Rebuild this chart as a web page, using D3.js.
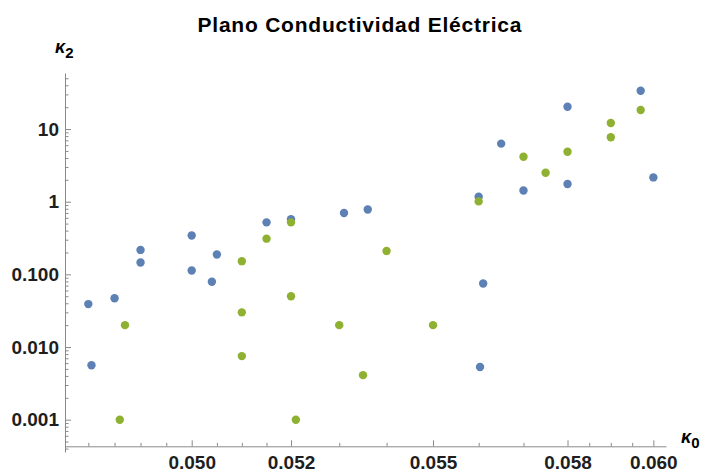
<!DOCTYPE html>
<html>
<head>
<meta charset="utf-8">
<script src="https://cdn.jsdelivr.net/npm/d3@7"></script>
<style>
  html, body { margin: 0; padding: 0; background: #fff; }
  svg { display: block; font-family: "Liberation Sans", Arial, sans-serif; }
  .axis path, .axis line { stroke: #8a8a8a; stroke-width: 1; }
  .axis text { fill: #1e1e1e; font-weight: bold; font-size: 19px; }
</style>
</head>
<body>
<svg id="chart" width="701" height="474"></svg>
<script>
// Conductivity plane: kappa_2 against kappa_0, two data sets on log-log axes
const blueK0 = [0.04800, 0.04806, 0.0485, 0.0490, 0.0490, 0.0500, 0.0500, 0.0505, 0.0504,
                0.0515, 0.0520, 0.0531, 0.0536, 0.0560, 0.0561, 0.05603, 0.0565, 0.0570,
                0.0580, 0.0580, 0.0597, 0.0600];
const blueK2 = [0.039, 0.0056, 0.047, 0.217, 0.146, 0.343, 0.113, 0.188, 0.079,
                0.52, 0.575, 0.70, 0.78, 1.17, 0.075, 0.0053, 6.3, 1.43,
                20.3, 1.75, 33.7, 2.16];

const greenK0 = [0.0487, 0.0486, 0.0510, 0.0510, 0.0510, 0.0515, 0.0520, 0.0520, 0.0521,
                 0.0530, 0.0535, 0.0540, 0.0550, 0.0560, 0.0570, 0.0575, 0.0580, 0.0590,
                 0.0590, 0.0597];
const greenK2 = [0.020, 0.001, 0.152, 0.030, 0.0075, 0.31, 0.52, 0.050, 0.001,
                 0.020, 0.0041, 0.21, 0.020, 1.01, 4.15, 2.5, 4.87, 12.1,
                 7.7, 18.3];

const xMajor = [0.050, 0.052, 0.055, 0.058, 0.060];
const xMajorLabels = ["0.050", "0.052", "0.055", "0.058", "0.060"];
const xMinor = [0.048, 0.0485, 0.049, 0.0495, 0.0505, 0.051, 0.0515, 0.053, 0.054,
                0.056, 0.057, 0.0585, 0.059, 0.0595];
const yMajor = [0.001, 0.01, 0.1, 1, 10];
const yMajorLabels = ["0.001", "0.010", "0.100", "1", "10"];

const xDomain = [0.04756, 0.0603];
const yDomain = [0.000359, 59.1];
const xAxisAt = 0.00043;

const svg = d3.select("#chart");

const x = d3.scaleLog().domain(xDomain).range([65, 666]);
const y = d3.scaleLog().domain(yDomain).range([452, 73]);

// y minor ticks: 2..9 in every decade within the domain
const yMinor = [];
for (let e = -4; e <= 1; e++) {
  for (let m = 2; m <= 9; m++) {
    const v = m * Math.pow(10, e);
    if (v >= yDomain[0] && v <= yDomain[1]) yMinor.push(v);
  }
}

const xAxisY = y(xAxisAt);

// x axis
const gx = svg.append("g").attr("class", "axis")
  .attr("transform", `translate(0,${xAxisY})`);
gx.call(d3.axisBottom(x).tickValues(xMinor).tickSizeInner(-3.5).tickSizeOuter(0).tickFormat(""));
gx.append("g").call(d3.axisBottom(x).tickValues(xMajor).tickSizeInner(-6).tickSizeOuter(0)
  .tickPadding(9.5).tickFormat((d, i) => xMajorLabels[i]))
  .select(".domain").remove();

// y axis
const gy = svg.append("g").attr("class", "axis")
  .attr("transform", "translate(65,0)");
gy.call(d3.axisLeft(y).tickValues(yMinor).tickSizeInner(-3.5).tickSizeOuter(0).tickFormat(""));
gy.append("g").call(d3.axisLeft(y).tickValues(yMajor).tickSizeInner(-6).tickSizeOuter(0)
  .tickPadding(6).tickFormat((d, i) => yMajorLabels[i]))
  .select(".domain").remove();
svg.selectAll(".axis").attr("font-family", null).attr("font-size", null);
svg.selectAll(".axis g").attr("font-family", null).attr("font-size", null);

// data points (green drawn over blue)
const series = [
  { k0: blueK0, k2: blueK2, color: "#5E81B5" },
  { k0: greenK0, k2: greenK2, color: "#8FB131" }
];
series.forEach(s => {
  svg.append("g").selectAll("circle")
    .data(s.k0.map((v, i) => [v, s.k2[i]]))
    .join("circle")
    .attr("cx", d => x(d[0]))
    .attr("cy", d => y(d[1]))
    .attr("r", 4.2)
    .attr("fill", s.color);
});

// title
svg.append("text")
  .attr("x", 359.5).attr("y", 32)
  .attr("text-anchor", "middle")
  .attr("font-weight", "bold")
  .attr("font-size", 21)
  .attr("textLength", 324)
  .attr("lengthAdjust", "spacing")
  .attr("fill", "#000")
  .text("Plano Conductividad Eléctrica");

// axis names
function kappa(xPos, yPos, sub) {
  const t = svg.append("text")
    .attr("x", xPos).attr("y", yPos)
    .attr("font-weight", "bold")
    .attr("font-size", 18)
    .attr("fill", "#000");
  t.append("tspan").attr("font-style", "italic").text("κ");
  t.append("tspan").attr("font-size", 15).attr("dy", 5).text(sub);
}
kappa(55, 53, "2");
kappa(681, 443, "0");
</script>
</body>
</html>
